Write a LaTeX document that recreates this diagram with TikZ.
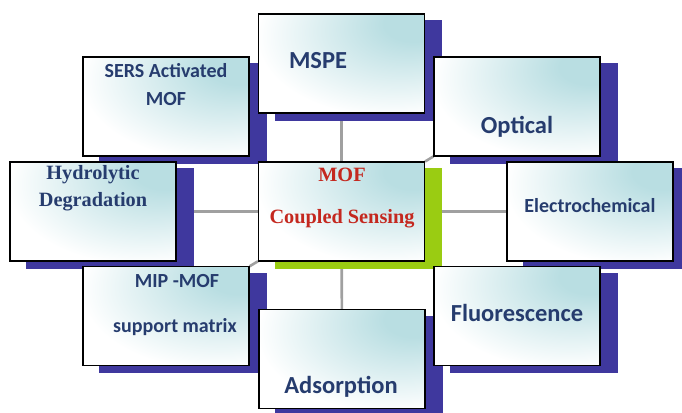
\documentclass[tikz,border=0pt]{standalone}
\usepackage{fontspec}
\setmainfont{Carlito}
\newfontfamily\timesb{Liberation Serif}
\usetikzlibrary{backgrounds}
\definecolor{tealbox}{RGB}{185,222,226}
\definecolor{shadowblue}{RGB}{63,56,158}
\definecolor{shadowgreen}{RGB}{154,204,18}
\definecolor{navy}{RGB}{38,60,110}
\definecolor{redtxt}{RGB}{196,40,31}
\definecolor{conngray}{RGB}{160,160,160}
\pgfdeclareradialshading{boxrad}{\pgfpoint{24bp}{22bp}}{color(0bp)=(tealbox); color(9bp)=(tealbox); color(40bp)=(white); color(100bp)=(white)}
\tikzset{
  box/.style={draw=black, line width=1.1pt, shading=boxrad, minimum width=166pt, minimum height=99pt, inner sep=0pt},
  conn/.style={draw=conngray, line width=2.6pt},
  sm/.style={text=navy, font=\bfseries\fontsize{20}{22}\selectfont, inner sep=0pt},
  bg/.style={text=navy, font=\bfseries\fontsize{24.5}{26}\selectfont, inner sep=0pt},
  tm/.style={text=navy, font=\timesb\bfseries\fontsize{20.3}{22}\selectfont, inner sep=0pt},
  tr/.style={text=redtxt, font=\timesb\bfseries\fontsize{20.3}{22}\selectfont, inner sep=0pt}
}
\begin{document}
\begin{tikzpicture}[x=1pt,y=-1pt]
\useasboundingbox (0,0) rectangle (682,412);
\clip (0,0) rectangle (682,412);
% boxes
\node[box] (sers) at (166,106.5) {};
\node[box] (mspe) at (341.5,63.5) {};
\node[box] (opt) at (517,106.5) {};
\node[box] (hyd) at (93,211.5) {};
\node[box] (ctr) at (341.5,211.5) {};
\node[box] (ele) at (590,211.5) {};
\node[box] (mip) at (166,316) {};
\node[box] (ads) at (342,359) {};
\node[box] (flu) at (517,316) {};
\begin{pgfonlayer}{background}
  \foreach \n in {sers,mspe,opt,hyd,ele,mip,ads,flu}{
    \draw[conn] (ctr) -- (\n);
  }
  \foreach \n in {sers,mspe,opt,hyd,ele,mip,ads,flu}{
    \fill[shadowblue] ([shift={(17,7)}]\n.south west) rectangle ([shift={(17,7)}]\n.north east);
  }
  \fill[shadowgreen] ([shift={(17,7)}]ctr.south west) rectangle ([shift={(17,7)}]ctr.north east);
\end{pgfonlayer}
% texts
\node[sm] (t1) at (166,71) {SERS Activated};
\node[sm] (t2) at (166,99) {MOF};
\node[bg] (t3) at (318,61) {MSPE};
\node[bg] (t4) at (517,127) {Optical};
\node[tm] (t5) at (93,175) {Hydrolytic};
\node[tm] (t6) at (93,202) {Degradation};
\node[tr] (t7) at (342,175) {MOF};
\node[tr] (t8) at (342,219) {Coupled Sensing};
\node[sm] (t9) at (590,206) {Electrochemical};
\node[sm] (t10) at (177,281) {MIP -MOF};
\node[sm] (t11) at (175,327) {support matrix};
\node[bg] (t12) at (341,387) {Adsorption};
\node[bg] (t13) at (517,313) {Fluorescence};
\end{tikzpicture}
\end{document}
